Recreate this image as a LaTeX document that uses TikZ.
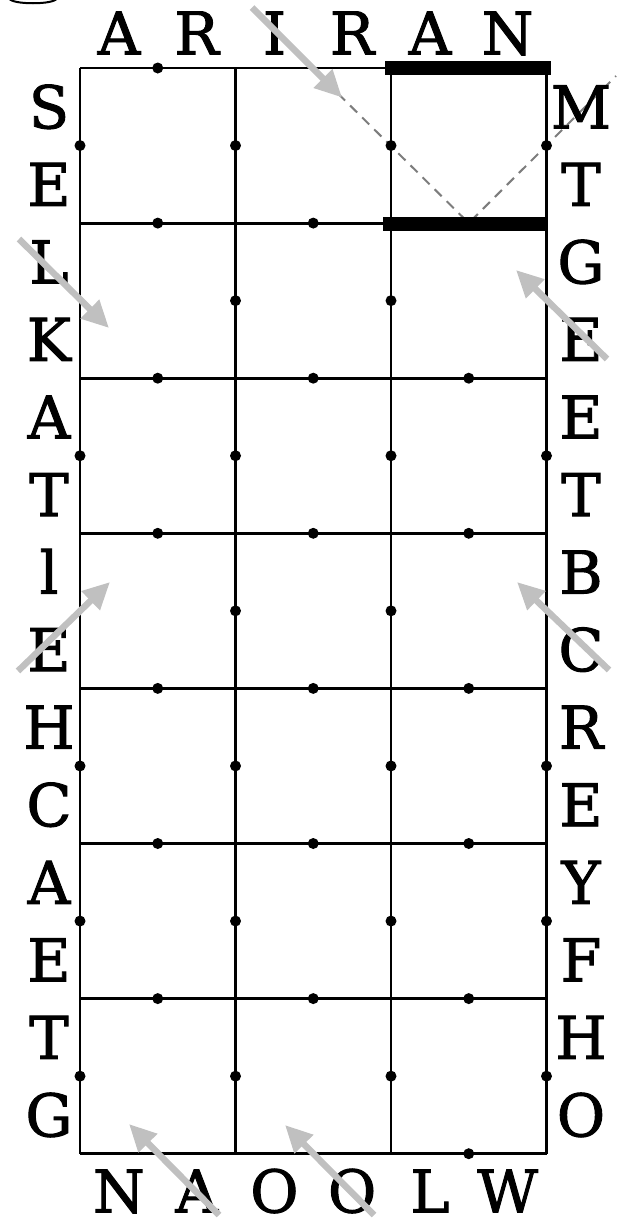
\documentclass[tikz,border=0pt]{standalone}
\usepackage{fontspec}
\setmainfont{DejaVu Serif}
\newfontfamily\labfont{DejaVu Serif}[FakeBold=1.6]
\usetikzlibrary{arrows.meta,calc}
\definecolor{arrowgray}{RGB}{192,192,192}
\definecolor{dashgray}{RGB}{125,125,125}
\begin{document}
\begin{tikzpicture}[x=1pt,y=-1pt,
  gridline/.style={line width=2.8pt, black},
  bar/.style={line width=14pt, black},
  dot/.style={circle, fill=black, inner sep=0pt, minimum size=11pt},
  lab/.style={font=\fontsize{59}{60}\labfont, anchor=base, inner sep=0pt},
  hint/.style={line width=6.5pt, arrowgray, -{Triangle[length=27pt,width=25pt]}},
  trace/.style={line width=2pt, dashgray, dash pattern=on 10pt off 7pt}
]
\useasboundingbox (0,0) rectangle (616,1218);
% grid coordinates
\foreach \i/\x in {0/80,1/235.5,2/391,3/546.5}{
  \foreach \j in {0,...,7}{
    \coordinate (g-\i-\j) at (\x,{68+155.1*\j});
  }
}
% grid lines
\foreach \j in {0,...,7}{ \draw[gridline] (g-0-\j) -- (g-3-\j); }
\foreach \i in {0,...,3}{ \draw[gridline] (g-\i-0) -- (g-\i-7); }
% dashed trace
\coordinate (t0) at (338,93.5);
\coordinate (t1) at (468.75,223.1);
\coordinate (t2) at (616,76);
\draw[trace] (t0) -- (t1) -- (t2);
% thick bars
\coordinate (b0a) at (385,68); \coordinate (b0b) at (551,68);
\coordinate (b1a) at (383,224); \coordinate (b1b) at (548,224);
\draw[bar] (b0a) -- (b0b);
\draw[bar] (b1a) -- (b1b);
% dots on horizontal lines (cell midpoints)
\foreach \j/\cols in {0/{1},1/{1,2},2/{1,2,3},3/{1,2,3},4/{1,2,3},5/{1,2,3},6/{1,2,3},7/{3}}{
  \foreach \c in \cols {
    \pgfmathtruncatemacro{\p}{\c-1}
    \node[dot] (h-\c-\j) at ($(g-\p-\j)!0.5!(g-\c-\j)$) {};
  }
}
% dots on vertical lines (row midpoints)
\foreach \r/\cols in {1/{0,1,2,3},2/{1,2},3/{0,1,2,3},4/{1,2},5/{0,1,2,3},6/{0,1,2,3},7/{0,1,2,3}}{
  \foreach \c in \cols {
    \pgfmathtruncatemacro{\q}{\r-1}
    \node[dot] (v-\c-\r) at ($(g-\c-\q)!0.5!(g-\c-\r)$) {};
  }
}
% letters
\foreach \ch [count=\k from 0] in {S,E,L,K,A,T,l,E,H,C,A,E,T,G}{
  \node[lab] (left\k) at (49,{68+38.8+77.55*\k+21.5}) {\ch};
}
\foreach \ch [count=\k from 0] in {M,T,G,E,E,T,B,C,R,E,Y,F,H,O}{
  \node[lab] (right\k) at (581,{68+38.8+77.55*\k+21.5}) {\ch};
}
\foreach \ch [count=\k from 0] in {A,R,I,R,A,N}{
  \node[lab] (top\k) at ({80+38.9+77.75*\k},54.5) {\ch};
}
\foreach \ch [count=\k from 0] in {N,A,O,O,L,W}{
  \node[lab, text depth=0pt] (bot\k) at ({80+38.9+77.75*\k},1212.5) {\ch};
}
% gray hint arrows
\coordinate (a1s) at (252,7.5);   \coordinate (a1e) at (342,97.5);
\coordinate (a2s) at (19,239);    \coordinate (a2e) at (109,328);
\coordinate (a3s) at (607,359);   \coordinate (a3e) at (516,270);
\coordinate (a4s) at (18,671);    \coordinate (a4e) at (110,582);
\coordinate (a5s) at (609,670);   \coordinate (a5e) at (517,582);
\coordinate (a6s) at (219,1215);  \coordinate (a6e) at (129,1124);
\coordinate (a7s) at (374,1215);  \coordinate (a7e) at (285,1125);
\foreach \n in {1,...,7}{ \draw[hint] (a\n s) -- (a\n e); }
% partial shape at top-left corner
\coordinate (p0) at (9,-2); \coordinate (p1) at (57,-2);
\draw[line width=2pt] (p0) .. controls (10,5) and (56,5) .. (p1);
\end{tikzpicture}
\end{document}
